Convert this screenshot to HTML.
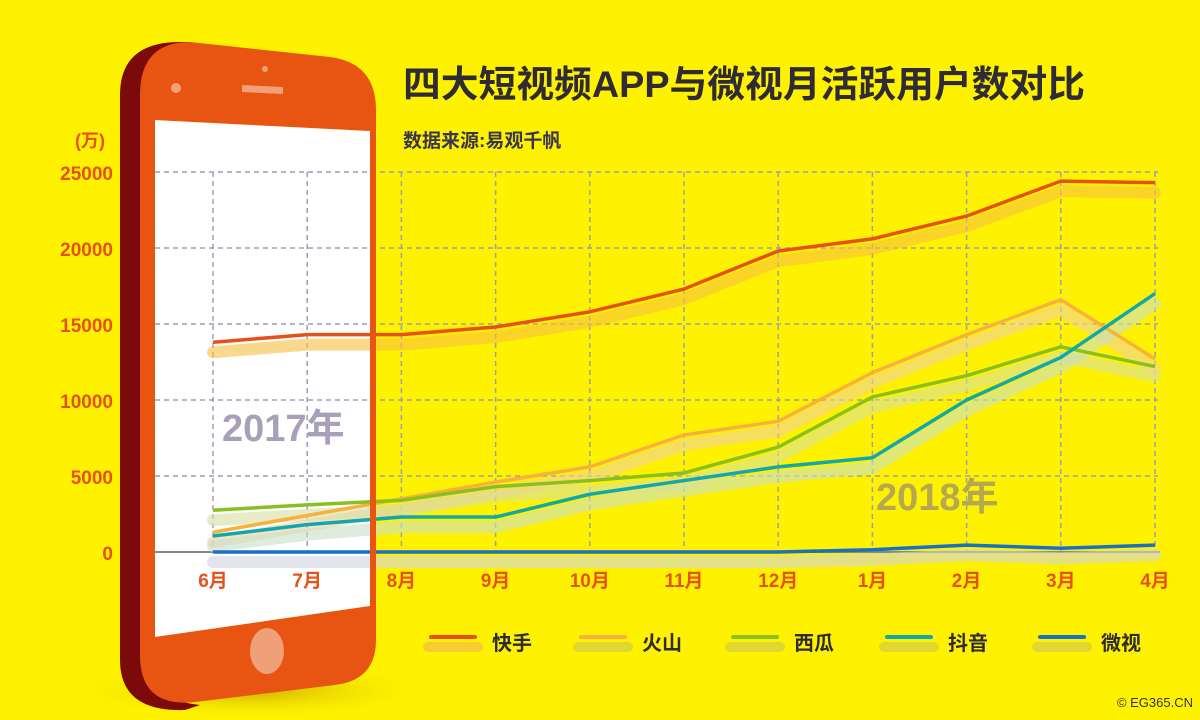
<!DOCTYPE html>
<html><head><meta charset="utf-8"><style>
html,body{margin:0;padding:0;background:#fff200;}
svg{display:block}
text{font-family:"Liberation Sans","Noto Sans CJK SC",sans-serif;font-weight:bold}
</style></head><body>
<svg id="s" width="1200" height="720" viewBox="0 0 1200 720" xmlns="http://www.w3.org/2000/svg">
<defs>
<radialGradient id="sh" cx="0.5" cy="0.5" r="0.5"><stop offset="0" stop-color="#a07000" stop-opacity="0.55"/><stop offset="1" stop-color="#fff200" stop-opacity="0"/></radialGradient>
</defs>
<rect width="1200" height="720" fill="#fff200"/>
<ellipse cx="250" cy="690" rx="190" ry="30" fill="url(#sh)"/>
<!-- dark side -->
<path d="M120,95 Q120,42 180,42 L190,42 Q150,50 150,100 L150,660 Q150,700 200,705 L185,710 Q120,712 120,660 Z" fill="#7d0a0a"/>
<!-- screen -->
<polygon points="155,120 370,131 370,606 155,637" fill="#ffffff"/>
<g id="chart"></g>
<!-- body with hole -->
<path fill-rule="evenodd" fill="#e85412" d="M140,95 Q140,42 190,42 L330,57 Q376,63 376,110 L376,640 Q376,680 335,685 L195,702 Q140,708 140,655 Z M155,120 L370,131 L370,606 L155,637 Z"/>
<circle cx="176" cy="88" r="5" fill="#f3a07a"/>
<circle cx="265" cy="69" r="3" fill="#f3a07a"/>
<polygon points="242,85 283,87 283,94 242,92" fill="#f3a07a"/>
<ellipse cx="267" cy="651" rx="17" ry="23" fill="#f0a078"/>
<text x="403" y="97" font-size="37" fill="#2e2a36" textLength="682" lengthAdjust="spacingAndGlyphs">四大短视频APP与微视月活跃用户数对比</text>
<text x="403" y="147" font-size="19" fill="#3a3650">数据来源:易观千帆</text>
<text x="75" y="147" font-size="18" fill="#e8501a">(万)</text>
<g font-size="19" fill="#e8501a" text-anchor="end">
<text x="113" y="180">25000</text><text x="113" y="256">20000</text><text x="113" y="332">15000</text>
<text x="113" y="408">10000</text><text x="113" y="484">5000</text><text x="113" y="560">0</text>
</g>
<text x="222" y="441" font-size="38" fill="#a8a0b8">2017年</text>
<text x="876" y="510" font-size="38" fill="#b4a850">2018年</text>
<g id="legend"></g>
<text x="1193" y="707" font-size="13" style="font-weight:normal" fill="#333" text-anchor="end">© EG365.CN</text>
</svg>
<script>
var ns="http://www.w3.org/2000/svg";
function el(p,n,a,t){var e=document.createElementNS(ns,n);for(var k in a)e.setAttribute(k,a[k]);if(t)e.textContent=t;p.appendChild(e);return e;}
var c=document.getElementById('chart');
var X=function(i){return 213+i*94.2}, Y=function(v){return 552-v*0.0152};
for(var k=1;k<=5;k++)el(c,'line',{x1:155,x2:1158,y1:Y(k*5000),y2:Y(k*5000),stroke:'#9aa0b8','stroke-width':1.5,'stroke-dasharray':'5,4'});
for(var i=0;i<11;i++)el(c,'line',{x1:X(i),x2:X(i),y1:172,y2:552,stroke:'#9aa0b8','stroke-width':1.5,'stroke-dasharray':'5,4'});
el(c,'line',{x1:155,x2:1160,y1:552,y2:552,stroke:'#888','stroke-width':2});
var S=[
['#e8501a','#f7c040',[13800,14300,14300,14800,15800,17300,19800,20600,22100,24400,24300]],
['#f8b040','#f0d0a0',[1300,2400,3500,4600,5600,7700,8600,11800,14300,16600,12700]],
['#88c020','#d8e0a0',[2750,3100,3400,4300,4700,5200,6900,10200,11600,13500,12200]],
['#10a8b0','#c8e0c8',[1050,1800,2300,2300,3800,4700,5600,6200,10000,12800,17000]],
['#1870c8','#d0d4e0',[0,0,0,0,0,0,0,150,450,250,450]]];
S.forEach(function(s){var p=s[2].map(function(v,i){return X(i)+','+(Y(v)+10)}).join(' ');
el(c,'polyline',{points:p,fill:'none',stroke:s[1],'stroke-width':12,'stroke-opacity':0.6,'stroke-linecap':'round','stroke-linejoin':'round'});});
S.forEach(function(s){var p=s[2].map(function(v,i){return X(i)+','+Y(v)}).join(' ');
el(c,'polyline',{points:p,fill:'none',stroke:s[0],'stroke-width':3.5,'stroke-linejoin':'round'});});
var m=['6月','7月','8月','9月','10月','11月','12月','1月','2月','3月','4月'];
m.forEach(function(t,i){el(c,'text',{x:X(i),y:587,'font-size':19,fill:'#e8501a','text-anchor':'middle'},t)});
var L=document.getElementById('legend'),names=['快手','火山','西瓜','抖音','微视'],lx=[428,578,730,884,1037];
names.forEach(function(n,i){var x=lx[i];
el(L,'line',{x1:x,x2:x+50,y1:647,y2:647,stroke:i==0?'#f7c040':'#d8d040','stroke-width':10,'stroke-linecap':'round','stroke-opacity':0.8});
el(L,'line',{x1:x+3,x2:x+47,y1:637,y2:637,stroke:S[i][0],'stroke-width':4,'stroke-linecap':'round'});
el(L,'text',{x:x+64,y:650,'font-size':20,fill:'#2e2a36'},n);});
</script>
</body></html>
